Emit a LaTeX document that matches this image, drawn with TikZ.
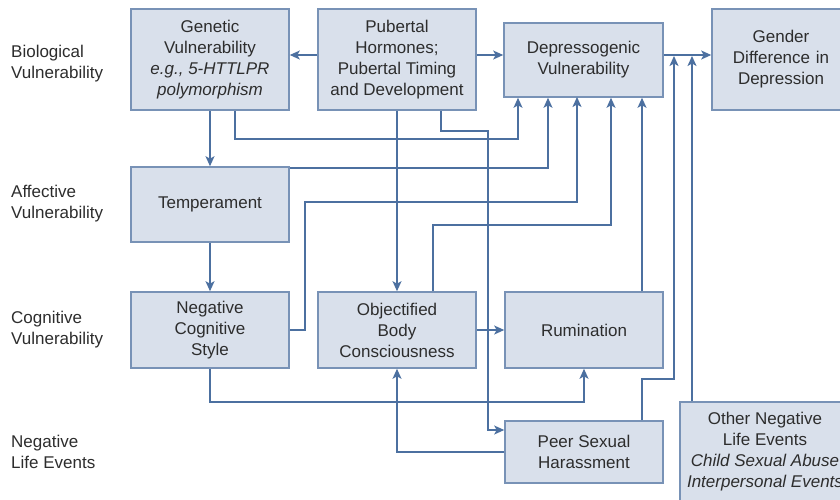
\documentclass[tikz,border=0pt]{standalone}
\usepackage{fontspec}
\setmainfont{Liberation Sans}
\usetikzlibrary{arrows.meta}
\definecolor{boxfill}{RGB}{217,224,235}
\definecolor{boxline}{RGB}{120,146,182}
\definecolor{linkcol}{RGB}{76,112,160}
\definecolor{txt}{RGB}{45,45,45}
\begin{document}
\begin{tikzpicture}[x=1pt,y=-1pt,
  font=\fontsize{17}{21}\selectfont, text=txt,
  boxnode/.style={draw=boxline, line width=1.6pt, fill=boxfill, inner sep=0pt,
    align=center, minimum width=158pt},
  rowlabel/.style={anchor=west, align=left, inner sep=0pt},
  link/.style={draw=linkcol, line width=1.4pt},
  arr/.style={link, -{Stealth[length=10pt,width=9pt,inset=2.5pt]}}]
\useasboundingbox (0,0) rectangle (840,499);
\clip (0,0) rectangle (840,499);
\fill[white] (0,0) rectangle (840,499);

% row labels
\node[rowlabel] (rbio) at (11,64) {Biological\\Vulnerability};
\node[rowlabel] (raff) at (11,204) {Affective\\Vulnerability};
\node[rowlabel] (rcog) at (11,330) {Cognitive\\Vulnerability};
\node[rowlabel] (rneg) at (11,452) {Negative\\Life Events};

% boxes
\node[boxnode, minimum height=101pt] (gen) at (210,59.5)
  {Genetic\\Vulnerability\\\textit{e.g., 5-HTTLPR}\\\textit{polymorphism}};
\node[boxnode, minimum height=101pt] (pub) at (397,59.5)
  {Pubertal\\Hormones;\\Pubertal Timing\\and Development};
\node[boxnode, minimum width=159pt, minimum height=74pt] (dep) at (583.5,60)
  {Depressogenic\\Vulnerability};
\node[boxnode, minimum width=138pt, minimum height=101pt, text width=120pt] (gender) at (781,59.5)
  {Gender\\Difference in\\Depression};
\node[boxnode, minimum height=75pt] (temp) at (210,204.5) {Temperament};
\node[boxnode, minimum height=76pt] (ncs) at (210,330) {Negative\\Cognitive\\Style};
\node[boxnode, minimum height=76pt] (obc) at (397,330) {Objectified\\Body\\Consciousness};
\node[boxnode, minimum height=76pt] (rum) at (584,330) {Rumination};
\node[boxnode, minimum height=62pt] (psh) at (584,452) {Peer Sexual\\Harassment};
\node[boxnode, minimum width=170pt, minimum height=108pt] (other) at (765,456) {};
\node[align=center, inner sep=0pt] (othertext) at (765,451.5)
  {Other Negative\\Life Events\\\textit{Child Sexual Abuse}\\\textit{Interpersonal Events}};

% helper coordinates
\coordinate (ytop) at (0,55);
\coordinate (c5) at (235,139);
\coordinate (d5) at (518,0);
\coordinate (c6) at (548,168);
\coordinate (c7a) at (305,202);
\coordinate (c7b) at (577,97);
\coordinate (c8) at (433,225);
\coordinate (d8) at (611,0);
\coordinate (c10a) at (441,0);
\coordinate (c10b) at (488,131);
\coordinate (y430) at (0,430);
\coordinate (x642) at (642,0);
\coordinate (c13) at (0,402);
\coordinate (c15) at (674,379);
\coordinate (j15) at (674,56);
\coordinate (x692) at (692,0);
\coordinate (j16) at (692,56);

% connectors
\draw[arr] (pub.west |- ytop) -- (gen.east |- ytop);
\draw[arr] (pub.east |- ytop) -- (dep.west |- ytop);
\draw[arr] (dep.east |- ytop) -- (gender.west |- ytop);
\draw[arr] (gen.south) -- (temp.north);
\draw[arr] (gen.south -| c5) |- (d5 |- c5) -- (dep.south -| d5);
\draw[arr] (temp.east |- c6) -| (dep.south -| c6);
\draw[arr] (ncs.east) -| (c7a) -| (c7b);
\draw[arr] (obc.north -| c8) -- (c8) -| (dep.south -| d8);
\draw[arr] (temp.south) -- (ncs.north);
\draw[arr] (pub.south) -- (obc.north);
\draw[arr] (pub.south -| c10a) |- (c10b) |- (psh.west |- y430);
\draw[arr] (obc.east) -- (rum.west);
\draw[arr] (rum.north -| x642) -- (dep.south -| x642);
\draw[arr] (ncs.south) |- (rum.south |- c13) -- (rum.south);
\draw[arr] (psh.west) -| (obc.south);
\draw[arr] (psh.north -| x642) |- (c15) -- (j15);
\draw[arr] (other.north -| x692) -- (j16);
\end{tikzpicture}
\end{document}
